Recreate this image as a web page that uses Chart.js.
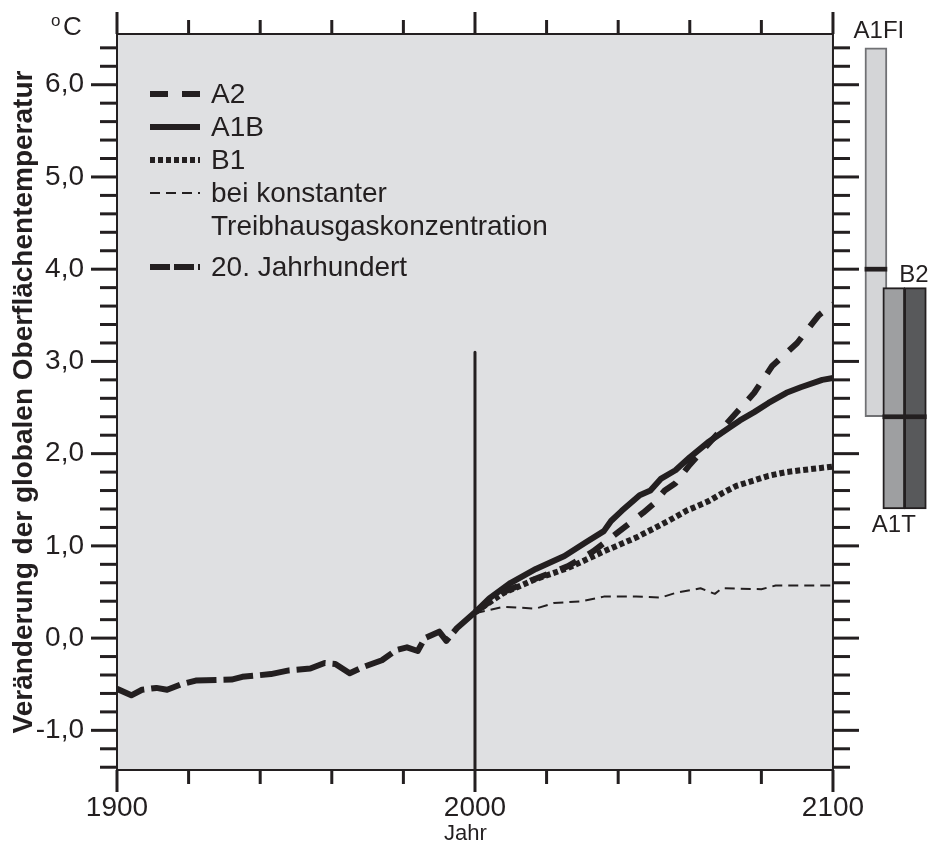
<!DOCTYPE html>
<html>
<head>
<meta charset="utf-8">
<script src="https://cdn.jsdelivr.net/npm/chart.js@4.4.1/dist/chart.umd.min.js"></script>
<style>
  html, body { margin: 0; padding: 0; background: #fff; }
  #wrap { width: 935px; height: 841px; }
</style>
</head>
<body>
<div id="wrap"><canvas id="chart" width="935" height="841"></canvas></div>
<script>
const INK = "#231f20";
const FONT = "'Liberation Sans', Arial, Helvetica, sans-serif";

// 20. Jahrhundert
const years20 = [1900, 1904, 1907, 1911, 1914, 1918, 1922, 1932, 1935, 1943, 1948, 1954, 1958, 1961, 1965, 1969, 1974, 1978, 1981, 1984, 1986, 1990, 1992, 1995, 2000];
const temp20  = [-0.55, -0.62, -0.56, -0.54, -0.56, -0.50, -0.46, -0.45, -0.42, -0.39, -0.35, -0.33, -0.27, -0.28, -0.38, -0.31, -0.24, -0.13, -0.10, -0.14, 0.00, 0.07, -0.03, 0.11, 0.28];

// Szenarien
const yearsA2 = [2000, 2008, 2016, 2026, 2033, 2040, 2047, 2050, 2053, 2056, 2060, 2066, 2072, 2078, 2083, 2090, 2096, 2100];
const tempA2  = [0.28, 0.50, 0.63, 0.78, 0.94, 1.15, 1.36, 1.46, 1.60, 1.68, 1.88, 2.14, 2.40, 2.66, 2.95, 3.20, 3.50, 3.62];

const yearsA1B = [2000, 2004, 2010, 2017, 2025, 2031, 2036, 2038, 2041, 2046, 2049, 2052, 2056, 2060, 2065, 2071, 2074, 2078, 2082, 2087, 2091, 2097, 2100];
const tempA1B  = [0.28, 0.43, 0.60, 0.75, 0.89, 1.04, 1.16, 1.27, 1.38, 1.55, 1.60, 1.73, 1.82, 1.96, 2.12, 2.28, 2.36, 2.45, 2.55, 2.66, 2.72, 2.80, 2.82];

const yearsB1 = [2000, 2008, 2017, 2026, 2036, 2045, 2054, 2059, 2065, 2069, 2073, 2078, 2082, 2087, 2091, 2100];
const tempB1  = [0.28, 0.49, 0.64, 0.76, 0.94, 1.09, 1.27, 1.38, 1.48, 1.57, 1.65, 1.71, 1.76, 1.80, 1.82, 1.86];

const yearsConst = [2000, 2008, 2017, 2022, 2030, 2036, 2045, 2052, 2056, 2063, 2067, 2069, 2080, 2084, 2100];
const tempConst  = [0.27, 0.34, 0.32, 0.38, 0.40, 0.45, 0.45, 0.44, 0.49, 0.54, 0.48, 0.54, 0.53, 0.57, 0.57];

// Bandbreiten 2090-2099
const boxNames = ["A1FI", "A1T", "B2"];
const boxYears = [2112, 2117, 2123];
const boxLow   = [2.4, 1.4, 1.4];
const boxHigh  = [6.4, 3.8, 3.8];
const boxBest  = [4.0, 2.4, 2.4];

const xTicks = [1900, 2000, 2100];
const yTicks = [-1, 0, 1, 2, 3, 4, 5, 6];
const xMin = 1900, xEnd = 2100, xMax = 2128.5;
const yMin = -1.43, yMax = 6.55;
const divYear = 2000, divTop = 3.1;

const pts = (xs, ys) => xs.map((x, i) => ({ x: x, y: ys[i] }));
const lineStyle = { borderColor: INK, pointRadius: 0, tension: 0, fill: false, borderCapStyle: "butt", borderJoinStyle: "round" };

const datasets = [
  Object.assign({ label: "A2", data: pts(yearsA2, tempA2), borderWidth: 6, borderDash: [18, 14] }, lineStyle),
  Object.assign({ label: "A1B", data: pts(yearsA1B, tempA1B), borderWidth: 6, borderDash: [] }, lineStyle),
  Object.assign({ label: "B1", data: pts(yearsB1, tempB1), borderWidth: 6, borderDash: [5, 3] }, lineStyle),
  Object.assign({ label: "bei konstanter\nTreibhausgaskonzentration", data: pts(yearsConst, tempConst), borderWidth: 2, borderDash: [10, 6] }, lineStyle),
  Object.assign({ label: "20. Jahrhundert", data: pts(years20, temp20), borderWidth: 6, borderDash: [30, 7], legendDash: [20, 4] }, lineStyle),
  Object.assign({ label: "", data: [{ x: divYear, y: divTop }, { x: divYear, y: yMin }], borderWidth: 3, borderDash: [], noLegend: true }, lineStyle),
  {
    type: "bar", label: "", noLegend: true, stack: "box", order: 2,
    data: boxYears.map((x, i) => ({ x: x, y: [boxLow[i], boxHigh[i]] })),
    backgroundColor: ["#d4d5d7", "#9e9fa1", "#58595b"],
    borderColor: ["#707174", INK, INK],
    borderWidth: 2, borderSkipped: false, barThickness: 22
  },
  {
    type: "bar", label: "", noLegend: true, stack: "box", order: 1,
    data: boxYears.map((x, i) => ({ x: x, y: [boxBest[i] - 0.022, boxBest[i] + 0.022] })),
    backgroundColor: INK, borderWidth: 0, barThickness: 22
  }
];

function seg(ctx, x1, y1, x2, y2) {
  ctx.beginPath(); ctx.moveTo(x1, y1); ctx.lineTo(x2, y2); ctx.stroke();
}

const backdrop = {
  id: "backdrop",
  beforeDatasetsDraw(chart) {
    const { ctx, chartArea: a, scales: { x } } = chart;
    const l = x.getPixelForValue(xMin), r = x.getPixelForValue(xEnd);
    ctx.save();
    ctx.fillStyle = "#dfe0e2";
    ctx.fillRect(l, a.top, r - l, a.bottom - a.top);
    ctx.restore();
  },
  afterDatasetsDraw(chart) {
    const { ctx, chartArea: a, scales: { x, y } } = chart;
    const l = x.getPixelForValue(xMin), r = x.getPixelForValue(xEnd);
    ctx.save();
    ctx.strokeStyle = INK;
    ctx.lineWidth = 2;
    ctx.strokeRect(l, a.top, r - l, a.bottom - a.top);
    ctx.lineWidth = 3;
    for (let k = -7; k <= 32; k++) {
      const v = k / 5;
      if (v < yMin || v > yMax) continue;
      const py = y.getPixelForValue(v);
      const len = k % 5 === 0 ? 26 : 17;
      seg(ctx, l - len, py, l, py);
      seg(ctx, r, py, r + len, py);
    }
    for (let yr = xMin; yr <= xEnd; yr += 20) {
      const px = x.getPixelForValue(yr);
      const len = yr % 100 === 0 ? 22 : 14;
      seg(ctx, px, a.top - len, px, a.top);
      seg(ctx, px, a.bottom, px, a.bottom + len);
    }
    ctx.restore();
  },
  afterDraw(chart) {
    const { ctx, scales: { x, y } } = chart;
    ctx.save();
    ctx.fillStyle = INK;
    ctx.strokeStyle = INK;

    // Legende
    let ly = 94;
    chart.data.datasets.forEach(ds => {
      if (ds.noLegend) return;
      ctx.lineWidth = ds.borderWidth;
      ctx.lineCap = "butt";
      ctx.setLineDash(ds.legendDash || ds.borderDash || []);
      seg(ctx, 150, ly, 200, ly);
      ctx.setLineDash([]);
      ctx.font = "28px " + FONT;
      ctx.textAlign = "left";
      ctx.textBaseline = "middle";
      const lines = ds.label.split("\n");
      lines.forEach((t, i) => ctx.fillText(t, 211, ly + 1 + i * 33));
      ly += 33 * lines.length + (lines.length > 1 ? 8 : 0);
    });

    // Einheit
    ctx.textBaseline = "alphabetic";
    ctx.textAlign = "left";
    ctx.font = "17px " + FONT;
    ctx.fillText("o", 51, 26);
    ctx.font = "26px " + FONT;
    ctx.fillText("C", 63, 35);

    // Achsenbeschriftung x
    ctx.font = "22px " + FONT;
    ctx.fillText("Jahr", x.getPixelForValue(2000) - 31, 840);

    // Balkenbeschriftung
    ctx.font = "24px " + FONT;
    ctx.textAlign = "center";
    ctx.fillText(boxNames[0], x.getPixelForValue(boxYears[0]) + 3, y.getPixelForValue(boxHigh[0]) - 10);
    ctx.textAlign = "left";
    ctx.fillText(boxNames[2], x.getPixelForValue(boxYears[2]) - 16, y.getPixelForValue(boxHigh[2]) - 6);
    ctx.textAlign = "center";
    ctx.textBaseline = "top";
    ctx.fillText(boxNames[1], x.getPixelForValue(boxYears[1]), y.getPixelForValue(boxLow[1]) + 4);
    ctx.restore();
  }
};

new Chart(document.getElementById("chart"), {
  type: "line",
  data: { datasets: datasets },
  options: {
    responsive: false,
    animation: false,
    layout: { padding: { top: 34, left: 0, right: 0, bottom: 0 } },
    plugins: { legend: { display: false }, tooltip: { enabled: false } },
    scales: {
      x: {
        type: "linear", min: xMin, max: xMax, offset: false,
        grid: { display: false, drawTicks: false, offset: false },
        border: { display: false },
        afterBuildTicks: s => { s.ticks = xTicks.map(v => ({ value: v })); },
        afterFit: s => { s.height = 71; s.paddingLeft = 0; s.paddingRight = 0; },
        ticks: { color: INK, font: { family: FONT, size: 28 }, padding: 21, maxRotation: 0, autoSkip: false, callback: v => String(v) }
      },
      y: {
        type: "linear", min: yMin, max: yMax, stacked: false,
        grid: { display: false, drawTicks: false },
        border: { display: false },
        afterBuildTicks: s => { s.ticks = yTicks.map(v => ({ value: v })); },
        afterFit: s => { s.width = 117; s.paddingTop = 0; s.paddingBottom = 0; },
        ticks: { color: INK, font: { family: FONT, size: 28 }, padding: 33, callback: v => v.toFixed(1).replace(".", ",") },
        title: { display: true, text: "Veränderung der globalen Oberflächentemperatur", color: INK, font: { family: FONT, size: 28, weight: "bold" }, padding: { top: 7, bottom: 0 } }
      }
    }
  },
  plugins: [backdrop]
});
</script>
</body>
</html>
